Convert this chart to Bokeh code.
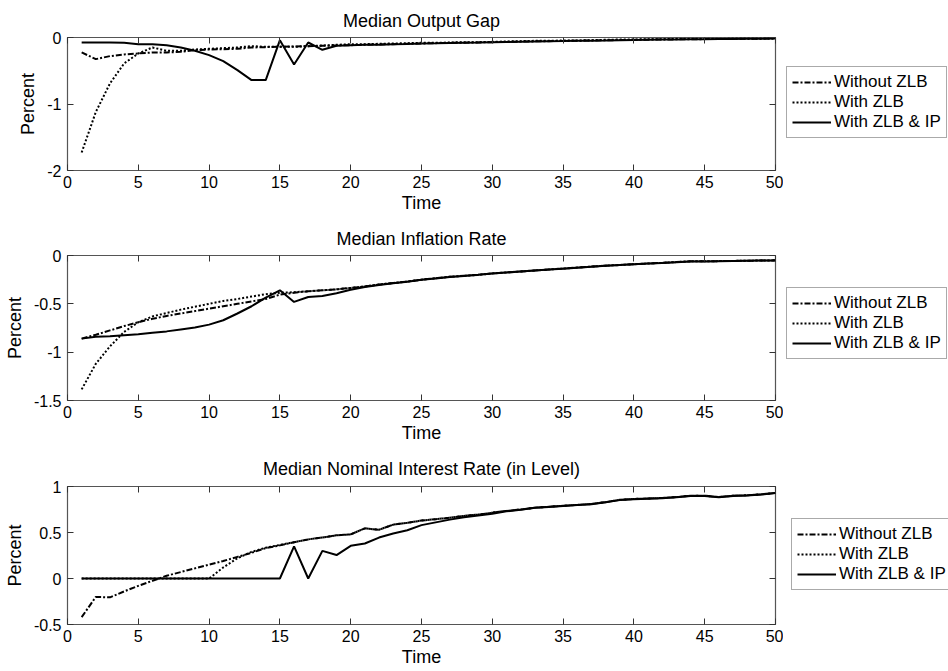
from bokeh.plotting import figure
from bokeh.models import (Legend, LegendItem, LinearAxis, Range1d, FixedTicker, Title,
                          CustomJSTickFormatter)
from bokeh.layouts import column, row
from bokeh.embed import file_html
from bokeh.resources import INLINE

time = list(range(1, 51))
x_ticks = [0, 5, 10, 15, 20, 25, 30, 35, 40, 45, 50]

# Median Output Gap
gap_no_zlb = [-0.225, -0.325, -0.28, -0.255, -0.24, -0.225, -0.225, -0.215, -0.19, -0.18,
              -0.175, -0.17, -0.15, -0.145, -0.14, -0.135, -0.13, -0.125, -0.12, -0.115,
              -0.11, -0.105, -0.1, -0.095, -0.09, -0.085, -0.08, -0.078, -0.075, -0.07,
              -0.066, -0.062, -0.058, -0.055, -0.052, -0.048, -0.045, -0.042, -0.038, -0.035,
              -0.032, -0.03, -0.028, -0.026, -0.024, -0.022, -0.02, -0.018, -0.017, -0.015]
gap_zlb = [-1.73, -1.12, -0.69, -0.39, -0.24, -0.15, -0.2, -0.2, -0.18, -0.17,
           -0.16, -0.15, -0.13, -0.14, -0.14, -0.14, -0.13, -0.12, -0.11, -0.1,
           -0.1, -0.095, -0.09, -0.085, -0.08, -0.08, -0.075, -0.07, -0.07, -0.065,
           -0.06, -0.055, -0.05, -0.05, -0.045, -0.045, -0.04, -0.035, -0.03, -0.03,
           -0.025, -0.025, -0.02, -0.02, -0.02, -0.018, -0.016, -0.015, -0.014, -0.013]
gap_zlb_ip = [-0.075, -0.075, -0.075, -0.08, -0.1, -0.1, -0.115, -0.15, -0.2, -0.265,
              -0.355, -0.49, -0.64, -0.64, -0.04, -0.405, -0.075, -0.185, -0.125, -0.115,
              -0.11, -0.108, -0.1, -0.098, -0.092, -0.088, -0.083, -0.08, -0.077, -0.072,
              -0.068, -0.064, -0.06, -0.057, -0.054, -0.05, -0.047, -0.044, -0.04, -0.036,
              -0.033, -0.031, -0.029, -0.027, -0.025, -0.023, -0.021, -0.019, -0.018, -0.016]

# Median Inflation Rate
inf_no_zlb = [-0.86, -0.82, -0.775, -0.73, -0.69, -0.655, -0.625, -0.6, -0.575, -0.55,
              -0.525, -0.5, -0.475, -0.45, -0.405, -0.385, -0.37, -0.36, -0.35, -0.335,
              -0.32, -0.3, -0.285, -0.27, -0.25, -0.235, -0.22, -0.21, -0.2, -0.185,
              -0.175, -0.165, -0.155, -0.145, -0.135, -0.125, -0.115, -0.105, -0.098, -0.09,
              -0.083, -0.076, -0.068, -0.06, -0.06, -0.058, -0.056, -0.054, -0.052, -0.05]
inf_zlb = [-1.385, -1.12, -0.94, -0.79, -0.69, -0.63, -0.595, -0.56, -0.53, -0.5,
           -0.47, -0.45, -0.425, -0.4, -0.385, -0.38, -0.37, -0.36, -0.35, -0.335,
           -0.32, -0.3, -0.285, -0.27, -0.25, -0.235, -0.22, -0.21, -0.2, -0.185,
           -0.175, -0.165, -0.155, -0.145, -0.135, -0.125, -0.115, -0.105, -0.098, -0.09,
           -0.083, -0.076, -0.068, -0.06, -0.06, -0.058, -0.056, -0.054, -0.052, -0.05]
inf_zlb_ip = [-0.86, -0.84, -0.835, -0.825, -0.815, -0.8, -0.785, -0.765, -0.745, -0.715,
              -0.67, -0.6, -0.525, -0.435, -0.36, -0.48, -0.43, -0.42, -0.39, -0.355,
              -0.325, -0.305, -0.288, -0.272, -0.252, -0.237, -0.222, -0.212, -0.2, -0.187,
              -0.176, -0.166, -0.156, -0.146, -0.136, -0.126, -0.116, -0.106, -0.099, -0.091,
              -0.084, -0.077, -0.069, -0.061, -0.061, -0.059, -0.057, -0.055, -0.053, -0.051]

# Median Nominal Interest Rate (in Level)
int_no_zlb = [-0.42, -0.2, -0.205, -0.14, -0.08, -0.025, 0.03, 0.07, 0.11, 0.15,
              0.19, 0.235, 0.28, 0.33, 0.36, 0.395, 0.425, 0.445, 0.47, 0.48,
              0.545, 0.53, 0.585, 0.605, 0.63, 0.645, 0.66, 0.68, 0.695, 0.715,
              0.735, 0.75, 0.77, 0.78, 0.79, 0.8, 0.81, 0.83, 0.855, 0.865,
              0.87, 0.875, 0.885, 0.9, 0.9, 0.885, 0.9, 0.905, 0.915, 0.93]
int_zlb = [0, 0, 0, 0, 0, 0, 0, 0, 0, 0,
           0.12, 0.22, 0.29, 0.335, 0.365, 0.395, 0.425, 0.445, 0.47, 0.48,
           0.545, 0.53, 0.585, 0.605, 0.63, 0.645, 0.66, 0.68, 0.695, 0.715,
           0.735, 0.75, 0.77, 0.78, 0.79, 0.8, 0.81, 0.83, 0.855, 0.865,
           0.87, 0.875, 0.885, 0.9, 0.9, 0.885, 0.9, 0.905, 0.915, 0.93]
int_zlb_ip = [0, 0, 0, 0, 0, 0, 0, 0, 0, 0,
              0, 0, 0, 0, 0, 0.35, 0, 0.3, 0.255, 0.355,
              0.38, 0.445, 0.49, 0.525, 0.58, 0.61, 0.64, 0.665, 0.685, 0.705,
              0.73, 0.748, 0.768, 0.778, 0.788, 0.798, 0.808, 0.828, 0.852, 0.862,
              0.868, 0.873, 0.883, 0.898, 0.898, 0.883, 0.898, 0.903, 0.913, 0.928]

panels = [
    ("Median Output Gap", [-2, 0], [-2, -1, 0], gap_no_zlb, gap_zlb, gap_zlb_ip),
    ("Median Inflation Rate", [-1.5, 0], [-1.5, -1, -0.5, 0], inf_no_zlb, inf_zlb, inf_zlb_ip),
    ("Median Nominal Interest Rate (in Level)", [-0.5, 1], [-0.5, 0, 0.5, 1], int_no_zlb, int_zlb, int_zlb_ip),
]
labels = ["Without ZLB", "With ZLB", "With ZLB & IP"]

# layout settings (not data)
fig_heights = [215, 230, 226]
frame_heights = [134, 145, 138]
top_borders = [37, 40, 41]
title_standoffs = [14, 13, 15]
legend_pos = [(3, 32), (3, 41), (8, 34)]
styles = [dict(line_dash="6 2 2 2"), dict(line_dash="2 2"), dict(line_dash="solid")]

FONT = "Liberation Sans"
AX = "#333333"

rows = []
for i, (ttl, yr, yt, a, b, c) in enumerate(panels):
    p = figure(width=783, height=fig_heights[i],
               min_border_left=67, min_border_right=8,
               min_border_top=top_borders[i],
               min_border_bottom=fig_heights[i] - top_borders[i] - frame_heights[i],
               x_range=Range1d(0, 50), y_range=Range1d(yr[0], yr[1]),
               output_backend="svg", toolbar_location=None, title=None)
    p.background_fill_color = "white"
    p.border_fill_color = "white"
    p.grid.visible = False
    p.outline_line_color = "#555555"
    p.outline_line_width = 1.2

    for series, st in zip((a, b, c), styles):
        p.line(time, series, line_color="black", line_width=2, **st)

    fmt = CustomJSTickFormatter(code="return tick.toString();")
    for ax in p.xaxis:
        ax.ticker = FixedTicker(ticks=x_ticks)
        ax.axis_label = "Time"
        ax.formatter = fmt
    for ax in p.yaxis:
        ax.ticker = FixedTicker(ticks=yt)
        ax.axis_label = "Percent"
        ax.formatter = fmt

    top_ax = LinearAxis(ticker=FixedTicker(ticks=x_ticks),
                        major_label_overrides={t: "" for t in x_ticks},
                        major_label_standoff=0)
    right_ax = LinearAxis(ticker=FixedTicker(ticks=yt),
                          major_label_overrides={t: "" for t in yt},
                          major_label_standoff=0)
    p.add_layout(top_ax, "above")
    p.add_layout(right_ax, "right")

    for ax in p.axis:
        ax.axis_line_color = None
        ax.major_tick_in = 6
        ax.major_tick_out = 0
        ax.minor_tick_line_color = None
        ax.major_tick_line_color = AX
        ax.major_label_text_font = FONT
        ax.major_label_text_color = "black"
        ax.axis_label_text_font = FONT
        ax.axis_label_text_font_style = "normal"
        ax.axis_label_text_color = "black"
    for ax in p.below:
        ax.major_label_text_font_size = "16px"
        ax.major_label_standoff = 5
        ax.axis_label_text_font_size = "18px"
        ax.axis_label_standoff = 2
    for ax in p.left:
        ax.major_label_text_font_size = "16px"
        ax.major_label_standoff = 6
        ax.axis_label_text_font_size = "18px"
        ax.axis_label_standoff = 6

    p.add_layout(Title(text=ttl, align="center", text_font=FONT, text_font_size="18px",
                       text_font_style="normal", text_color="black",
                       standoff=title_standoffs[i]), "above")

    # legend in its own narrow figure to the right of the axes box;
    # its lines use the same series but lie outside this figure's view
    lf = figure(width=948 - 783, height=fig_heights[i], min_border=0,
                x_axis_location=None, y_axis_location=None,
                x_range=Range1d(-20, -10), y_range=Range1d(yr[0], yr[1]),
                output_backend="svg", toolbar_location=None, title=None)
    lf.grid.visible = False
    lf.outline_line_color = None
    lf.background_fill_color = "white"
    lf.border_fill_color = "white"
    items = []
    for lab, series, st in zip(labels, (a, b, c), styles):
        r = lf.line(time, series, line_color="black", line_width=2, **st)
        items.append(LegendItem(label=lab, renderers=[r]))
    legend = Legend(items=items, location=legend_pos[i], orientation="vertical",
                    label_text_font=FONT, label_text_font_size="17px",
                    label_text_color="black",
                    glyph_width=39, glyph_height=20, label_standoff=3,
                    label_height=20, spacing=0, padding=5, margin=0,
                    border_line_color="#555555", border_line_width=1,
                    background_fill_alpha=1.0)
    lf.add_layout(legend, "center")
    rows.append(row(p, lf, spacing=0))

layout = column(*rows, spacing=0)
open("out.html", "w").write(file_html(layout, INLINE))
